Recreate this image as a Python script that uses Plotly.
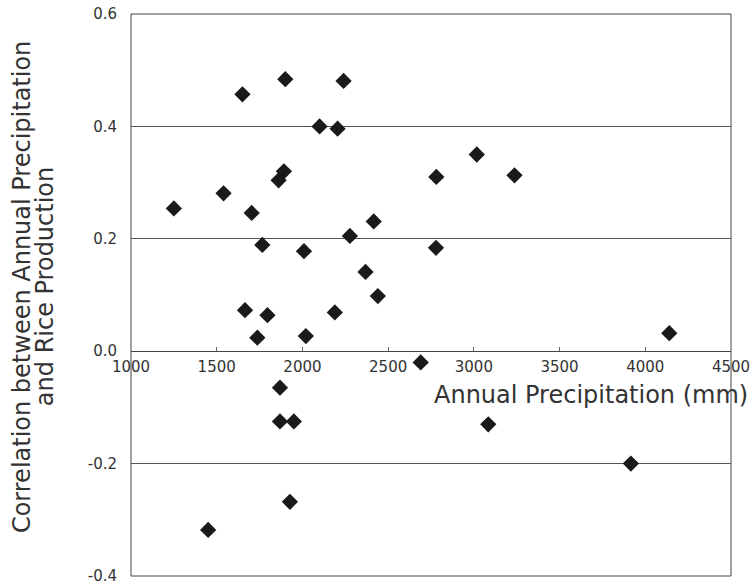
import plotly.graph_objects as go

precip = [1250, 1540, 1650, 1900, 2240, 2100, 2205, 1892, 1861, 1704,
          1766, 2009, 2277, 2416, 2368, 3017, 2781, 3237, 2779, 2440,
          1665, 1796, 1737, 2020, 2189, 2690, 4140, 1869, 1869, 1950,
          1927, 1450, 3084, 3916]
corr = [0.254, 0.281, 0.457, 0.484, 0.481, 0.400, 0.396, 0.320, 0.304, 0.246,
        0.189, 0.178, 0.205, 0.231, 0.141, 0.350, 0.310, 0.313, 0.184, 0.098,
        0.073, 0.064, 0.024, 0.027, 0.069, -0.020, 0.032, -0.065, -0.125, -0.125,
        -0.268, -0.318, -0.130, -0.200]

x_ticks = [1000, 1500, 2000, 2500, 3000, 3500, 4000, 4500]
y_ticks = [-0.4, -0.2, 0.0, 0.2, 0.4, 0.6]
y_ticktext = ["-0.4", "-0.2", "0.0", "0.2", "0.4", "0.6"]

fig = go.Figure()
fig.add_trace(go.Scatter(
    x=precip, y=corr, mode="markers",
    marker=dict(symbol="diamond", size=12.5, color="#1a1a1a", line=dict(width=0)),
    showlegend=False, hoverinfo="x+y"))

font = "DejaVu Sans, sans-serif"
fig.update_layout(
    width=755, height=585,
    margin=dict(l=131, r=24, t=14, b=9, autoexpand=False),
    paper_bgcolor="white", plot_bgcolor="white",
    font=dict(family=font, color="#333333"),
    xaxis=dict(range=[1000, 4500], tickvals=x_ticks,
               anchor="free", position=0.4,
               showgrid=False, zeroline=False,
               showline=True, linecolor="#444444", linewidth=1,
               ticks="inside", ticklen=4, tickcolor="#666666",
               tickfont=dict(size=15, color="#333333"),
               ticklabelstandoff=2, automargin=False),
    yaxis=dict(range=[-0.4, 0.6], tickvals=y_ticks, ticktext=y_ticktext,
               showgrid=True, gridcolor="#555555", gridwidth=1,
               zeroline=False, showline=False, ticks="",
               tickfont=dict(size=15, color="#333333"),
               ticklabelstandoff=13, automargin=False,
               ticklabeloverflow="allow"),
    shapes=[dict(type="rect", xref="paper", yref="paper", x0=0, y0=0, x1=1, y1=1,
                 line=dict(color="#444444", width=1))],
    annotations=[
        dict(text="Annual Precipitation (mm)", xref="paper", yref="paper",
             x=1.031, y=0.322, xanchor="right", yanchor="middle", showarrow=False,
             font=dict(size=24, color="#333333", family=font)),
        dict(text="Correlation between Annual Precipitation",
             xref="paper", yref="paper", x=-0.1817, y=0.514, xanchor="center",
             yanchor="middle", textangle=-90, showarrow=False,
             font=dict(size=24, color="#333333", family=font)),
        dict(text="and Rice Production",
             xref="paper", yref="paper", x=-0.1433, y=0.514, xanchor="center",
             yanchor="middle", textangle=-90, showarrow=False,
             font=dict(size=24, color="#333333", family=font)),
    ],
)

fig.write_html("out.html", config={"displayModeBar": False},
               post_script="document.body.style.margin='0';document.body.style.overflow='hidden';")
